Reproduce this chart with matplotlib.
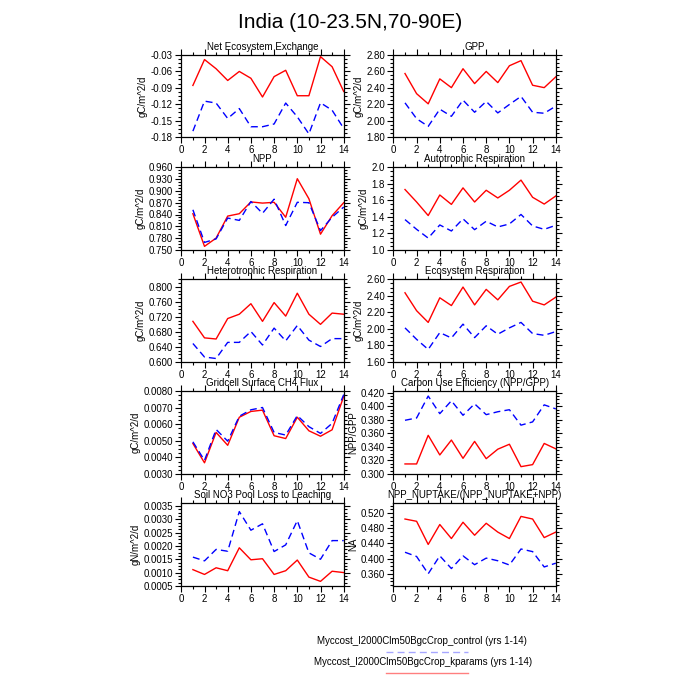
import matplotlib
matplotlib.use("Agg")
import matplotlib.pyplot as plt
from matplotlib.lines import Line2D
from matplotlib.ticker import MultipleLocator, AutoMinorLocator, FormatStrFormatter

plt.rcParams['font.family'] = ['Liberation Sans', 'DejaVu Sans']

years = list(range(1, 15))

# control run (blue dashed) and kparams run (red solid)
nee_ctl = [-0.169, -0.1145, -0.118, -0.146, -0.128, -0.161, -0.161, -0.156, -0.118, -0.143, -0.174, -0.1175, -0.131, -0.164]
nee_kp = [-0.086, -0.039, -0.0557, -0.077, -0.0606, -0.073, -0.107, -0.070, -0.0585, -0.1047, -0.1047, -0.0337, -0.052, -0.097]

gpp_ctl = [2.216, 2.024, 1.931, 2.139, 2.053, 2.249, 2.102, 2.233, 2.094, 2.196, 2.294, 2.102, 2.090, 2.176]
gpp_kp = [2.571, 2.327, 2.204, 2.506, 2.40, 2.629, 2.449, 2.596, 2.461, 2.665, 2.727, 2.429, 2.40, 2.531]

npp_ctl = [0.852, 0.769, 0.778, 0.831, 0.825, 0.873, 0.843, 0.879, 0.812, 0.871, 0.870, 0.799, 0.833, 0.859]
npp_kp = [0.842, 0.759, 0.780, 0.836, 0.842, 0.872, 0.869, 0.871, 0.833, 0.931, 0.880, 0.790, 0.837, 0.870]

ar_ctl = [1.367, 1.249, 1.143, 1.302, 1.229, 1.376, 1.245, 1.347, 1.278, 1.314, 1.429, 1.290, 1.249, 1.298]
ar_kp = [1.731, 1.580, 1.416, 1.665, 1.551, 1.751, 1.580, 1.722, 1.629, 1.722, 1.845, 1.637, 1.555, 1.653]

hr_ctl = [0.649, 0.613, 0.609, 0.652, 0.652, 0.681, 0.645, 0.690, 0.656, 0.697, 0.658, 0.641, 0.662, 0.662]
hr_kp = [0.708, 0.664, 0.661, 0.7155, 0.727, 0.755, 0.708, 0.758, 0.722, 0.783, 0.727, 0.700, 0.730, 0.727]

er_ctl = [2.012, 1.873, 1.751, 1.955, 1.890, 2.057, 1.894, 2.037, 1.935, 2.012, 2.078, 1.943, 1.922, 1.967]
er_kp = [2.437, 2.22, 2.078, 2.376, 2.282, 2.506, 2.290, 2.478, 2.351, 2.514, 2.567, 2.335, 2.290, 2.384]

ch4_ctl = [0.00494, 0.00382, 0.00569, 0.00498, 0.00649, 0.00688, 0.00702, 0.00551, 0.00535, 0.00653, 0.00586, 0.00545, 0.00606, 0.00780]
ch4_kp = [0.00484, 0.00367, 0.00551, 0.00473, 0.00643, 0.00678, 0.00686, 0.00531, 0.00514, 0.00643, 0.00561, 0.00528, 0.00567, 0.00769]

cue_ctl = [0.3792, 0.3826, 0.415, 0.389, 0.408, 0.3866, 0.4035, 0.3875, 0.3918, 0.3948, 0.372, 0.3768, 0.402, 0.396]
cue_kp = [0.3147, 0.3147, 0.357, 0.328, 0.350, 0.323, 0.348, 0.3225, 0.3365, 0.3438, 0.3107, 0.3137, 0.345, 0.337]

no3_ctl = [0.00158, 0.00144, 0.00187, 0.00180, 0.00329, 0.00259, 0.00283, 0.00179, 0.00204, 0.00295, 0.00174, 0.00150, 0.00220, 0.00220]
no3_kp = [0.00111, 0.00093, 0.00118, 0.00107, 0.00193, 0.00148, 0.00152, 0.00093, 0.00107, 0.00147, 0.00083, 0.00067, 0.00105, 0.00100]

nup_ctl = [0.4168, 0.4056, 0.360, 0.4073, 0.3738, 0.4073, 0.384, 0.4013, 0.3944, 0.3832, 0.4254, 0.4185, 0.378, 0.388]
nup_kp = [0.5045, 0.4985, 0.4374, 0.490, 0.453, 0.496, 0.4617, 0.4933, 0.470, 0.453, 0.5114, 0.5045, 0.4555, 0.470]

case_ctl = "Myccost_I2000Clm50BgcCrop_control (yrs 1-14)"
case_kp = "Myccost_I2000Clm50BgcCrop_kparams (yrs 1-14)"

# title, ylabel, data, ylim, major step, tick format
panels = [
    ("Net Ecosystem Exchange", "gC/m^2/d", nee_ctl, nee_kp, (-0.18, -0.03), 0.03, "%.2f"),
    ("GPP", "gC/m^2/d", gpp_ctl, gpp_kp, (1.8, 2.8), 0.2, "%.2f"),
    ("NPP", "gC/m^2/d", npp_ctl, npp_kp, (0.75, 0.96), 0.03, "%.3f"),
    ("Autotrophic Respiration", "gC/m^2/d", ar_ctl, ar_kp, (1.0, 2.0), 0.2, "%.1f"),
    ("Heterotrophic Respiration", "gC/m^2/d", hr_ctl, hr_kp, (0.6, 0.82), 0.04, "%.3f"),
    ("Ecosystem Respiration", "gC/m^2/d", er_ctl, er_kp, (1.6, 2.6), 0.2, "%.2f"),
    ("Gridcell Surface CH4 Flux", "gC/m^2/d", ch4_ctl, ch4_kp, (0.003, 0.008), 0.001, "%.4f"),
    ("Carbon Use Efficiency (NPP/GPP)", "NPP/GPP", cue_ctl, cue_kp, (0.3, 0.422), 0.02, "%.3f"),
    ("Soil NO3 Pool Loss to Leaching", "gN/m^2/d", no3_ctl, no3_kp, (0.0005, 0.0036), 0.0005, "%.4f"),
    ("NPP_NUPTAKE/(NPP_NUPTAKE+NPP)", "NA", nup_ctl, nup_kp, (0.328, 0.546), 0.04, "%.3f"),
]

fig = plt.figure(figsize=(7, 7), dpi=100)
fig.text(0.5, 0.968, "India (10-23.5N,70-90E)", ha="center", va="center", fontsize=15)

lefts = [0.259, 0.562]
bottoms = [0.804, 0.643, 0.483, 0.323, 0.163]
w, h = 0.232, 0.118

for i, (title, ylab, ctl, kp, ylim, step, fmt) in enumerate(panels):
    ax = fig.add_axes([lefts[i % 2], bottoms[i // 2], w, h])
    ax.plot(years, kp, color="red", lw=1.0)
    ax.plot(years, ctl, color="blue", lw=1.0, dashes=(5, 3))
    ax.set_xlim(0, 14)
    ax.set_ylim(*ylim)
    ax.xaxis.set_major_locator(MultipleLocator(2))
    ax.xaxis.set_minor_locator(AutoMinorLocator(2))
    ax.yaxis.set_major_locator(MultipleLocator(step))
    ax.yaxis.set_minor_locator(AutoMinorLocator(4))
    ax.yaxis.set_major_formatter(FormatStrFormatter(fmt))
    ax.tick_params(which="both", direction="out", top=True, right=True,
                   labelsize=7, width=0.8, pad=2)
    ax.tick_params(axis="x", pad=1.5)
    ax.tick_params(which="major", length=4)
    ax.tick_params(which="minor", length=2)
    for s in ax.spines.values():
        s.set_linewidth(0.9)
    ax.set_title(title, fontsize=7, pad=3.5)
    ax.set_ylabel(ylab, fontsize=7, labelpad=2)

# legend below the panels
fig.text(0.603, 0.084, case_ctl, ha="center", va="center", fontsize=7)
fig.add_artist(Line2D([0.552, 0.668], [0.068, 0.068], color="blue", alpha=0.35,
                      lw=1.0, dashes=(5, 3)))
fig.text(0.605, 0.054, case_kp, ha="center", va="center", fontsize=7)
fig.add_artist(Line2D([0.552, 0.668], [0.039, 0.039], color="red", alpha=0.5, lw=1.0))

fig.savefig("out.png", dpi=100)
